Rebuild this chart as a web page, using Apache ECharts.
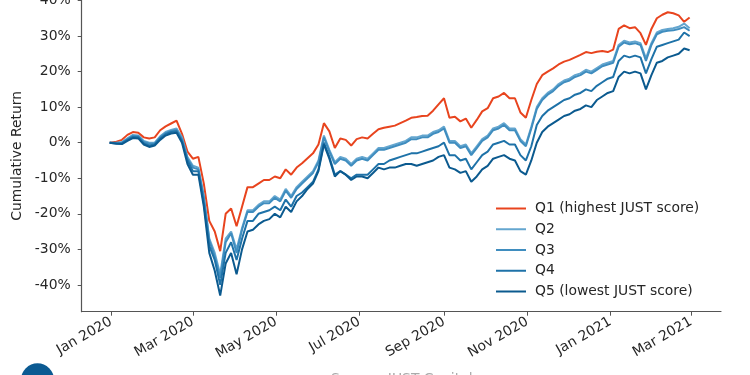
<!DOCTYPE html>
<html><head><meta charset="utf-8">
<script src="https://cdn.jsdelivr.net/npm/echarts@6/dist/echarts.min.js"></script>
<style>html,body{margin:0;padding:0;background:#fff}#c{width:750px;height:375px}</style>
</head><body><div id="c"></div>
<script>
const dates = ['2019-12-31','2020-01-05','2020-01-09','2020-01-13','2020-01-17','2020-01-21','2020-01-25','2020-01-29','2020-02-02','2020-02-06',
'2020-02-10','2020-02-14','2020-02-18','2020-02-22','2020-02-26','2020-03-01','2020-03-05','2020-03-09','2020-03-13','2020-03-17',
'2020-03-21','2020-03-25','2020-03-29','2020-04-02','2020-04-06','2020-04-10','2020-04-14','2020-04-18','2020-04-22','2020-04-26',
'2020-04-30','2020-05-04','2020-05-08','2020-05-12','2020-05-16','2020-05-20','2020-05-24','2020-05-28','2020-06-01','2020-06-05',
'2020-06-09','2020-06-13','2020-06-17','2020-06-21','2020-06-25','2020-06-29','2020-07-03','2020-07-07','2020-07-11','2020-07-15',
'2020-07-19','2020-07-23','2020-07-27','2020-07-31','2020-08-04','2020-08-08','2020-08-12','2020-08-16','2020-08-20','2020-08-24',
'2020-08-28','2020-09-01','2020-09-05','2020-09-09','2020-09-13','2020-09-17','2020-09-21','2020-09-25','2020-09-29','2020-10-03',
'2020-10-07','2020-10-11','2020-10-15','2020-10-19','2020-10-23','2020-10-27','2020-10-31','2020-11-04','2020-11-08','2020-11-12',
'2020-11-16','2020-11-20','2020-11-24','2020-11-28','2020-12-02','2020-12-06','2020-12-10','2020-12-14','2020-12-18','2020-12-22',
'2020-12-26','2020-12-30','2021-01-03','2021-01-07','2021-01-11','2021-01-15','2021-01-19','2021-01-23','2021-01-27','2021-01-31',
'2021-02-04','2021-02-08','2021-02-12','2021-02-16','2021-02-20','2021-02-24','2021-02-28'];

const q1 = [0,0.3,0.8,2.2,3.0,2.8,1.5,1.2,1.5,3.5,
4.6,5.4,6.2,2.5,-2.5,-4.5,-4.0,-11.5,-22,-25,
-30.5,-20,-18.5,-23.5,-18,-12.5,-12.5,-11.5,-10.5,-10.5,
-9.5,-10,-7.5,-9,-7,-5.8,-4.4,-3,-0.5,5.5,
3.2,-1.5,1.2,0.8,-0.8,1,1.5,1.2,2.5,3.8,
4.2,4.5,4.8,5.5,6.2,7,7.2,7.5,7.6,9,
10.8,12.5,7.0,7.3,6.0,6.8,4.2,6.4,8.8,9.7,
12.5,13,14,12.5,12.5,8.5,7.0,12,16.5,19,
20,20.9,22,22.8,23.3,24,24.7,25.5,25.2,25.6,
25.8,25.5,26.2,32,33,32.2,32.5,30.8,27.5,32,
35,36,36.7,36.4,35.8,34,35.2];

const q2 = [0,0,0.2,1.2,2.2,2.0,0.5,0,0,1.8,
3,3.6,4,1.5,-4,-6.5,-7,-15,-27,-31,
-37,-27,-25,-30,-24,-19,-19,-17.5,-16.5,-16.5,
-15,-16,-13,-15,-12.5,-11,-9.5,-8,-5,2,
-2,-5.5,-4,-4.5,-6,-4.5,-4,-4.5,-3,-1.5,
-1.5,-1,-0.5,0,0.5,1.5,1.5,2,2,3,
3.5,4.5,0.5,0.5,-1,-0.5,-3,-1,1,2,
4,4.5,5.5,4,4,1,-0.5,4.5,10,12.5,
14,15,16.5,17.5,18,19,19.5,20.5,20,21,
22,22.5,23,27.5,28.7,28.2,28.5,28,23.7,28,
31,31.7,32,32.2,32.6,33.5,32.2];

const q3 = [0,-0.1,0,1.0,1.9,1.8,0.2,-0.3,-0.2,1.5,
2.7,3.3,3.6,1.0,-4.5,-7,-7.5,-15.5,-27.5,-32,
-38,-28,-25.5,-31,-24.5,-19.5,-19.5,-18,-17,-17,
-15.5,-16.5,-13.5,-15.5,-13,-11.5,-10,-8.5,-5.5,1.5,
-2.5,-6,-4.5,-5,-6.5,-5,-4.5,-5,-3.5,-2,
-2,-1.5,-1,-0.5,0,1,1,1.5,1.5,2.5,
3,4,0,0,-1.5,-1,-3.5,-1.5,0.5,1.5,
3.5,4,5,3.5,3.5,0.5,-1,4,9.5,12,
13.5,14.5,16,17,17.5,18.5,19,20,19.5,20.5,
21.5,22,22.5,27,28.2,27.7,28,27.5,23,27.5,
30.5,31.2,31.5,31.6,32,32.5,31.5];

const q4 = [0,-0.2,-0.2,0.8,1.6,1.5,-0.2,-0.8,-0.5,1.2,
2.4,3.0,3.2,0.5,-5,-8,-8,-17,-29,-33,
-40,-31,-28,-33,-27,-22,-22,-20,-19.5,-19,
-18,-19,-16,-18,-15,-14,-12.5,-11,-7.5,0,
-4,-9,-8,-9,-10,-9,-9,-9,-7.5,-6,
-6,-5,-4.5,-4,-3.5,-3,-3,-2.5,-2,-1.5,
-1,0,-3.5,-3.5,-5,-4.5,-7.5,-5.5,-3.5,-2.5,
-0.5,0,0.5,-0.5,-0.5,-3.5,-5,-1,5,7.5,
9,10,11,12,12.5,13.5,14,15,14.5,16,
17,18,18.5,23,24.5,24,24.5,24,19.5,23.5,
27,27.5,28,28.5,29,31,30];

const q5 = [0,-0.3,-0.4,0.5,1.3,1.2,-0.5,-1.2,-0.8,0.8,
2.0,2.6,2.8,0,-6,-9,-9,-18,-31,-36,
-43,-34,-31,-37,-30,-25,-24.5,-23,-22,-21.5,
-20,-21,-18,-19.5,-16.5,-15,-13,-11.5,-8,-0.5,
-4.5,-9.5,-8,-9,-10.5,-9.5,-9.5,-10,-8.5,-7,
-7.5,-7,-7,-6.5,-6,-6,-6.5,-6,-5.5,-5,
-4,-3.5,-7,-7.5,-8.5,-8,-11,-9.5,-7.5,-6.5,
-4.5,-4,-3.5,-4.5,-5,-8,-9,-5,0,3,
4.5,5.5,6.5,7.5,8,9,9.5,10.5,10,12,
13,14,14.5,18.5,20,19.5,20,19.5,15,19,
22.5,23,24,24.5,25,26.5,26];

const seriesNames = ['Q1 (highest JUST score)','Q2','Q3','Q4','Q5 (lowest JUST score)'];
const seriesValues = [q1,q2,q3,q4,q5];
const seriesColors = ['#e8441e','#64a6cf','#3f8dbf','#1e72a8','#0b5a8f'];
const yTickValues = [-40,-30,-20,-10,0,10,20,30,40];
const xTickDates = ['2020-01-01','2020-03-01','2020-05-01','2020-07-01','2020-09-01','2020-11-01','2021-01-01','2021-03-01'];
const MONTHS = ['Jan','Feb','Mar','Apr','May','Jun','Jul','Aug','Sep','Oct','Nov','Dec'];

function ts(s){const p=s.split('-');return Date.UTC(+p[0],+p[1]-1,+p[2]);}
const xTicks = xTickDates.map(ts);
const FONT = 'DejaVu Sans';
const FS = 13.9;
const TXT = '#262626';
const AX = '#555555';

const chart = echarts.init(document.getElementById('c'), null, {renderer:'canvas'});
chart.setOption({
  animation:false,
  backgroundColor:'#ffffff',
  grid:{left:81.7, right:29, top:0, bottom:63.3, containLabel:false, outerBoundsMode:'none'},
  xAxis:{
    type:'value',
    min:Date.UTC(2019,11,10,12), max:Date.UTC(2021,2,23),
    axisLine:{onZero:false, lineStyle:{color:AX,width:1.2}},
    axisTick:{customValues:xTicks, length:4, lineStyle:{color:AX,width:1}},
    axisLabel:{customValues:xTicks, rotate:30, margin:9, fontSize:FS, fontFamily:FONT, color:TXT,
      formatter:function(v){const d=new Date(v);return MONTHS[d.getUTCMonth()]+' '+d.getUTCFullYear();}},
    splitLine:{show:false}
  },
  yAxis:{
    type:'value', min:-47.54, max:40.14,
    name:'Cumulative Return', nameLocation:'middle', nameGap:50, nameRotate:90,
    nameTextStyle:{fontSize:FS, fontFamily:FONT, color:TXT},
    axisLine:{show:true, onZero:false, lineStyle:{color:AX,width:1.2}},
    axisTick:{show:true, customValues:yTickValues, length:4, lineStyle:{color:AX,width:1}},
    axisLabel:{customValues:yTickValues, margin:11, fontSize:FS, fontFamily:FONT, color:TXT,
      formatter:function(v){return v+'%';}},
    splitLine:{show:false}
  },
  legend:{
    data:seriesNames, orient:'vertical', left:491, top:196, icon:'rect',
    itemWidth:30, itemHeight:2, itemGap:5.75,
    textStyle:{fontSize:FS, fontFamily:FONT, color:TXT, lineHeight:15, padding:[0,0,0,4]}
  },
  series:seriesNames.map(function(n,i){
    return {name:n, type:'line', showSymbol:false, symbol:'none',
      data:dates.map(function(d,k){return [ts(d), seriesValues[i][k]];}),
      lineStyle:{color:seriesColors[i], width:2}, itemStyle:{color:seriesColors[i]},
      z:2+i};
  }),
  graphic:[
    {type:'circle', shape:{cx:37.5, cy:379.8, r:16.5}, style:{fill:'#0b5a92'}},
    {type:'text', left:331, top:372, style:{text:'Source: JUST Capital', fontSize:FS, fontFamily:FONT, fill:'#aaaaaa'}}
  ]
});
</script></body></html>
